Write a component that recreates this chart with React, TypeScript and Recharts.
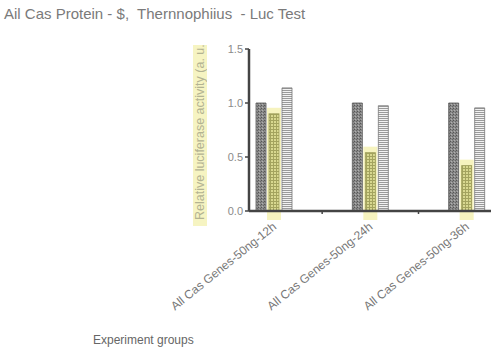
import React from 'react';
import { BarChart, Bar, XAxis, YAxis } from 'recharts';

const categories = ['All Cas Genes-50ng-12h', 'All Cas Genes-50ng-24h', 'All Cas Genes-50ng-36h'];
const controlValues = [1.0, 1.0, 1.0];
const proteinValues = [0.9, 0.54, 0.42];
const geneValues = [1.14, 0.975, 0.955];
const yTicks = [0, 0.5, 1.0, 1.5];

const data = categories.map((name, i) => ({
  name,
  control: controlValues[i],
  protein: proteinValues[i],
  gene: geneValues[i],
}));

const YellowBar = (props: any) => {
  const { x, y, width, height } = props;
  if (height == null) return null;
  return (
    <g>
      <rect x={x - 2} y={y - 6} width={width + 4} height={height + 15} fill="#f4f1b4" opacity={0.85} />
      <rect x={x} y={y} width={width} height={height} fill="url(#pXhatch)" stroke="#9c9c58" strokeWidth={0.8} />
    </g>
  );
};

const XTick = (props: any) => {
  const { x, y, payload, index } = props;
  return (
    <g>
      {index < 2 ? <line x1={x + 48} x2={x + 48} y1={y - 9} y2={y - 5} stroke="#444" strokeWidth={1.5} /> : null}
      <text
        x={x + 3}
        y={y + 9}
        textAnchor="end"
        fill="#777"
        fontSize={12}
        fontFamily="Liberation Sans, Arial, sans-serif"
        transform={`rotate(-39, ${x + 3}, ${y + 9})`}
      >
        {payload.value}
      </text>
    </g>
  );
};

const YLabel = () => {
  const x = 193;
  const top = 45;
  const bottom = 226;
  return (
    <g>
      <defs>
        <clipPath id="ylabclip">
          <rect x={x} y={top} width={14} height={bottom - top} />
        </clipPath>
      </defs>
      <rect x={x} y={top} width={14} height={bottom - top} fill="#f6f4c2" />
      <g clipPath="url(#ylabclip)">
        <text
          x={x + 11}
          y={bottom - 6}
          textAnchor="start"
          fill="#b3b392"
          fontSize={12.5}
          fontFamily="Liberation Sans, Arial, sans-serif"
          transform={`rotate(-90, ${x + 11}, ${bottom - 6})`}
        >
          Relative luciferase activity (a. u.)
        </text>
      </g>
    </g>
  );
};

export default function App() {
  return (
    <div style={{ position: 'absolute', left: 0, top: 0, width: 500, height: 356, background: '#fff', fontFamily: 'Liberation Sans, Arial, sans-serif' }}>
      <div style={{ position: 'absolute', left: 4, top: 5, fontSize: 15, color: '#7a7a7a', whiteSpace: 'pre' }}>
        {'Ail Cas Protein - $,  Thernnophiius  - Luc Test'}
      </div>
      <div style={{ position: 'absolute', left: 93, top: 333, fontSize: 12, color: '#666' }}>Experiment groups</div>
      <BarChart
        width={500}
        height={356}
        data={data}
        margin={{ top: 49, right: 9, bottom: 85, left: 189 }}
        barSize={10}
        barGap={3}
        style={{ position: 'absolute', left: 0, top: 0 }}
      >
        <defs>
          <pattern id="pDark" width="3" height="3" patternUnits="userSpaceOnUse">
            <rect width="3" height="3" fill="#8a8a8a" />
            <rect x="0" y="0" width="1" height="1" fill="#555" />
            <rect x="2" y="1" width="1" height="1" fill="#666" />
            <rect x="1" y="2" width="1" height="1" fill="#b0b0b0" />
          </pattern>
          <pattern id="pXhatch" width="3" height="3" patternUnits="userSpaceOnUse">
            <rect width="3" height="3" fill="#d8d890" />
            <rect x="0" y="0" width="3" height="1" fill="#a3a35e" />
            <rect x="0" y="0" width="1" height="3" fill="#a3a35e" />
          </pattern>
          <pattern id="pStripe" width="3" height="2" patternUnits="userSpaceOnUse">
            <rect width="3" height="2" fill="#f2f2f2" />
            <rect x="0" y="0" width="3" height="1" fill="#9a9a9a" />
          </pattern>
        </defs>
        <XAxis
          dataKey="name"
          padding={{ left: -23, right: -24 }}
          axisLine={{ stroke: '#444', strokeWidth: 2.5 }}
          tickLine={false}
          tick={<XTick />}
          interval={0}
          height={60}
        />
        <YAxis
          domain={[0, 1.5]}
          ticks={yTicks}
          width={60}
          axisLine={{ stroke: '#444', strokeWidth: 2.5 }}
          tickLine={{ stroke: '#444', strokeWidth: 1.5 }}
          tickSize={4}
          tick={{ fill: '#8a8a8a', fontSize: 11 }}
          tickFormatter={(v: number) => v.toFixed(1)}
          label={{ content: <YLabel /> }}
        />
        <Bar dataKey="control" fill="url(#pDark)" stroke="#555" strokeWidth={0.8} isAnimationActive={false} />
        <Bar dataKey="protein" shape={<YellowBar />} isAnimationActive={false} />
        <Bar dataKey="gene" fill="url(#pStripe)" stroke="#777" strokeWidth={0.8} isAnimationActive={false} />
      </BarChart>
    </div>
  );
}
